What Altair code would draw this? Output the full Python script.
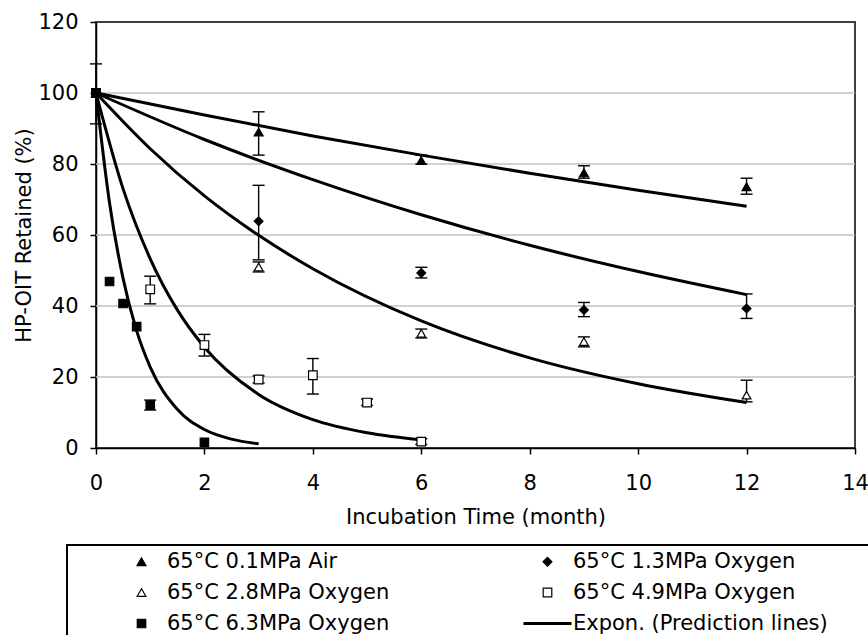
import altair as alt
import pandas as pd

FONT = "DejaVu Sans"
FS = 21

series_names = ["65°C 0.1MPa Air", "65°C 1.3MPa Oxygen", "65°C 2.8MPa Oxygen",
                "65°C 4.9MPa Oxygen", "65°C 6.3MPa Oxygen"]
line_label = "Expon. (Prediction lines)"
legend_labels = series_names + [line_label]
legend_shapes = ["triangle-up", "diamond", "triangle-up", "square", "square",
                 "M-5.6,-0.2L5.6,-0.2L5.6,0.2L-5.6,0.2Z"]
legend_fills = ["black", "black", "white", "white", "black", "black"]
legend_strokes = ["black"] * 6
marker_sizes = [80, 70, 80, 75, 90, 64]
marker_strokes = [1.2, 1.2, 1.2, 1.2, 1.2, 1.2]

# measured points
air_t = [0, 3, 6, 9, 12]
air_v = [100, 89, 81, 77.5, 73.6]
o13_t = [0, 3, 6, 9, 12]
o13_v = [100, 63.9, 49.3, 38.9, 39.3]
o28_t = [0, 3, 6, 9, 12]
o28_v = [100, 51, 32.3, 30, 14.9]
o49_t = [0, 1, 2, 3, 4, 5, 6]
o49_v = [100, 44.7, 29, 19.3, 20.5, 12.8, 1.8]
o63_t = [0, 0.25, 0.5, 0.75, 1, 2]
o63_v = [100, 46.9, 40.7, 34.2, 12.1, 1.6]

# error bars
air_et = [0, 3, 6, 9, 12]
air_lo = [91.3, 82.5, 80, 76, 71.5]
air_hi = [108.2, 94.7, 82.5, 79.5, 76]
o13_et = [3, 6, 9, 12]
o13_lo = [53, 47.9, 37, 36.5]
o13_hi = [74, 50.9, 41, 43.4]
o28_et = [3, 6, 9, 12]
o28_lo = [49.6, 31, 28.5, 13]
o28_hi = [52.4, 33.5, 31.3, 19.1]
o49_et = [1, 2, 3, 4, 5, 6]
o49_lo = [40.6, 25.9, 18.3, 15.2, 12, 1]
o49_hi = [48.4, 32, 20.3, 25.2, 13.8, 2.6]
o63_et = [1]
o63_lo = [10.7]
o63_hi = [13.5]

# prediction lines
p_air_t = [0, 2, 4, 6, 8, 10, 12]
p_air_v = [100, 93.8, 87.9, 82.5, 77.4, 72.6, 68.1]
p_13_t = [0, 2, 4, 6, 8, 10, 12]
p_13_v = [100, 86.9, 75.6, 65.7, 57.1, 49.7, 43.2]
p_28_t = [0, 1, 2, 3, 4, 6, 8, 10, 12]
p_28_v = [100, 84.3, 71, 59.9, 50.5, 35.8, 25.4, 18.1, 12.8]
p_49_t = [0, 0.5, 1, 1.5, 2, 3, 4, 5, 6]
p_49_v = [100, 73, 53.3, 38.9, 28.4, 15.1, 8.0, 4.3, 2.3]
p_63_t = [0, 0.25, 0.5, 0.75, 1, 1.5, 2, 2.5, 3]
p_63_v = [100, 69, 47.7, 33, 22.8, 10.9, 5.2, 2.5, 1.2]

grid_vals = [20, 40, 60, 80, 100]
x_ticks = [0, 2, 4, 6, 8, 10, 12, 14]
y_ticks = [0, 20, 40, 60, 80, 100, 120]

pts = []
for name, ts, vs in zip(series_names, [air_t, o13_t, o28_t, o49_t, o63_t],
                        [air_v, o13_v, o28_v, o49_v, o63_v]):
    pts += [{"series": name, "t": t, "v": v} for t, v in zip(ts, vs)]
pts_df = pd.DataFrame(pts)

errs = []
for name, ts, lo, hi in zip(series_names, [air_et, o13_et, o28_et, o49_et, o63_et],
                            [air_lo, o13_lo, o28_lo, o49_lo, o63_lo],
                            [air_hi, o13_hi, o28_hi, o49_hi, o63_hi]):
    errs += [{"series": name, "t": t, "lo": a, "hi": b} for t, a, b in zip(ts, lo, hi)]
err_df = pd.DataFrame(errs)

lines = []
for name, ts, vs in zip(series_names, [p_air_t, p_13_t, p_28_t, p_49_t, p_63_t],
                        [p_air_v, p_13_v, p_28_v, p_49_v, p_63_v]):
    lines += [{"curve": name, "t": t, "v": v} for t, v in zip(ts, vs)]
lines_df = pd.DataFrame(lines)

grid_df = pd.DataFrame({"g": grid_vals})

xscale = alt.Scale(domain=[0, 14], nice=False, zero=False)
yscale = alt.Scale(domain=[0, 120], nice=False)

x_axis = alt.Axis(values=x_ticks, title="Incubation Time (month)", grid=False,
                  tickSize=6, tickColor="black", tickWidth=1.5,
                  domainColor="black", domainWidth=1.5,
                  labelFont=FONT, labelFontSize=FS, labelColor="black",
                  labelPadding=18, labelFlush=False, labelOverlap=False,
                  titleFont=FONT, titleFontSize=FS, titleFontWeight="normal",
                  titleColor="black", titlePadding=13)
y_axis = alt.Axis(values=y_ticks, title="HP-OIT Retained (%)", grid=False,
                  tickSize=6, tickColor="black", tickWidth=1.5,
                  domainColor="black", domainWidth=1.5,
                  labelFont=FONT, labelFontSize=FS, labelColor="black",
                  labelPadding=12, labelFlush=False, labelOverlap=False,
                  titleFont=FONT, titleFontSize=FS, titleFontWeight="normal",
                  titleColor="black", titlePadding=3)

grid = alt.Chart(grid_df).mark_rule(color="#c0c0c0", strokeWidth=1.5).encode(
    y=alt.Y("g:Q", scale=yscale, axis=y_axis))

pred = alt.Chart(lines_df).mark_line(color="black", strokeWidth=3, interpolate="monotone").encode(
    x=alt.X("t:Q", scale=xscale, axis=x_axis),
    y=alt.Y("v:Q", scale=yscale),
    detail="curve:N")

err_rule = alt.Chart(err_df).mark_rule(color="black", strokeWidth=1.4).encode(
    x=alt.X("t:Q", scale=xscale), y=alt.Y("lo:Q", scale=yscale), y2="hi:Q")
err_lo = alt.Chart(err_df).mark_tick(color="black", orient="horizontal", size=12,
                                     thickness=1.4, opacity=1).encode(
    x=alt.X("t:Q", scale=xscale), y=alt.Y("lo:Q", scale=yscale))
err_hi = alt.Chart(err_df).mark_tick(color="black", orient="horizontal", size=12,
                                     thickness=1.4, opacity=1).encode(
    x=alt.X("t:Q", scale=xscale), y=alt.Y("hi:Q", scale=yscale))

legend = alt.Legend(
    title=" ", titleOrient="right", titleFontSize=FS, titlePadding=60,
    orient="none", legendX=-29, legendY=523, columns=2, direction="horizontal",
    strokeColor="black", padding=6, fillColor="white",
    symbolOffset=58, labelOffset=15, columnPadding=89, rowPadding=9,
    symbolStrokeColor="black", symbolOpacity=1,
    labelFont=FONT, labelFontSize=FS, labelColor="black", labelLimit=500,
)

points = alt.Chart(pts_df).mark_point(filled=True, opacity=1).encode(
    x=alt.X("t:Q", scale=xscale),
    y=alt.Y("v:Q", scale=yscale),
    shape=alt.Shape("series:N", scale=alt.Scale(domain=legend_labels, range=legend_shapes), legend=legend),
    fill=alt.Fill("series:N", scale=alt.Scale(domain=legend_labels, range=legend_fills), legend=legend),
    stroke=alt.Stroke("series:N", scale=alt.Scale(domain=legend_labels, range=legend_strokes), legend=legend),
    size=alt.Size("series:N", scale=alt.Scale(domain=legend_labels, range=marker_sizes), legend=legend),
    strokeWidth=alt.StrokeWidth("series:N", scale=alt.Scale(domain=legend_labels, range=marker_strokes), legend=legend),
)

chart = alt.layer(grid, pred, err_rule, err_lo, err_hi, points).properties(
    width=759, height=426,
    autosize=alt.AutoSizeParams(type="none"),
    padding={"left": 96, "top": 22, "right": 13, "bottom": 187},
    background="white",
).configure_view(stroke="#404040", strokeWidth=2).configure_legend(strokeWidth=2)

chart.save("out.html", embed_options={"renderer": "svg", "actions": False})
